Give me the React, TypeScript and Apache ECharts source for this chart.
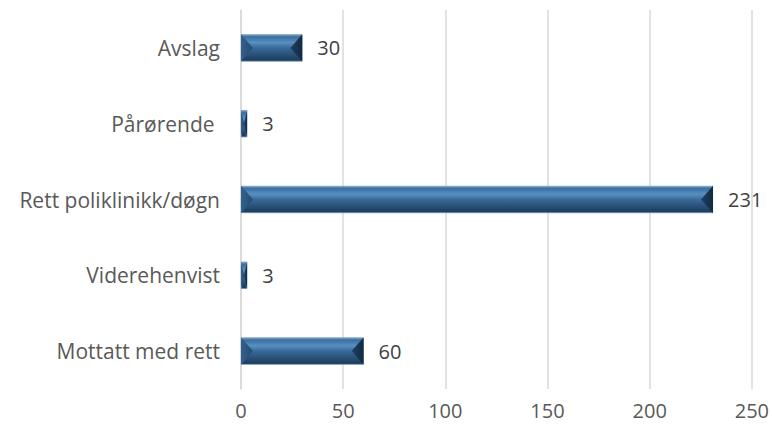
import React, { useEffect, useRef } from "react";
import * as echarts from "echarts";

const categories = ["Mottatt med rett", "Viderehenvist", "Rett poliklinikk/døgn", "Pårørende ", "Avslag"];
const values = [60, 3, 231, 3, 30];
const xTicks = [0, 50, 100, 150, 200, 250];

export default function App() {
  const ref = useRef<HTMLDivElement>(null);
  useEffect(() => {
    const chart = echarts.init(ref.current!, null, { renderer: "svg" });
    const font = "'Open Sans', 'Liberation Sans', sans-serif";
    const barRatio = 0.36;
    chart.setOption({
      animation: false,
      grid: { left: 241, right: 20, top: 10, bottom: 39, containLabel: false },
      xAxis: {
        type: "value",
        min: xTicks[0],
        max: xTicks[xTicks.length - 1],
        interval: 50,
        axisLine: { show: false },
        axisTick: { show: false },
        splitLine: { show: true, lineStyle: { color: "#d9d9d9", width: 1.5 } },
        axisLabel: { color: "#595959", fontSize: 20, fontFamily: font, margin: 11 },
      },
      yAxis: {
        type: "category",
        data: categories,
        axisLine: { show: true, lineStyle: { color: "#d9d9d9", width: 1.5 } },
        axisTick: { show: false },
        axisLabel: { color: "#595959", fontSize: 21, fontFamily: font, margin: 21 },
      },
      series: [
        {
          type: "bar",
          data: values,
          barWidth: barRatio * 100 + "%",
          itemStyle: {
            color: new echarts.graphic.LinearGradient(0, 0, 0, 1, [
              { offset: 0, color: "#7aa5cf" },
              { offset: 0.08, color: "#3c6e9f" },
              { offset: 0.3, color: "#5890c2" },
              { offset: 0.5, color: "#386a9a" },
              { offset: 0.8, color: "#274c72" },
              { offset: 1, color: "#1c3956" },
            ]),
            borderColor: "#6f97bf",
            borderWidth: 0.8,
          },
          label: {
            show: true,
            position: "right",
            distance: 15,
            color: "#404040",
            fontSize: 20,
            fontFamily: font,
          },
        },
        {
          type: "custom",
          data: values.map((v, i) => [v, i]),
          encode: { x: 0, y: 1 },
          silent: true,
          z: 3,
          renderItem: (params: any, api: any) => {
            const v = api.value(0);
            const idx = api.value(1);
            const start = api.coord([0, idx]);
            const end = api.coord([v, idx]);
            const band = api.size([0, 1])[1];
            const h = band * barRatio;
            const yc = start[1];
            const y0 = yc - h / 2;
            const y1 = yc + h / 2;
            const x0 = start[0];
            const x1 = end[0];
            const b = Math.min(12, (x1 - x0) / 2);
            return {
              type: "group",
              children: [
                {
                  type: "polygon",
                  shape: { points: [[x0, y0], [x0 + b, yc], [x0, y1]] },
                  style: {
                    fill: new echarts.graphic.LinearGradient(0, 0, 1, 0, [
                      { offset: 0, color: "#33618d" },
                      { offset: 1, color: "#254b72" },
                    ]),
                  },
                },
                {
                  type: "polygon",
                  shape: { points: [[x1, y0], [x1 - b, yc], [x1, y1]] },
                  style: {
                    fill: new echarts.graphic.LinearGradient(0, 0, 1, 0, [
                      { offset: 0, color: "#1f4163" },
                      { offset: 1, color: "#112a42" },
                    ]),
                  },
                },
              ],
            };
          },
        },
      ],
    });
    return () => chart.dispose();
  }, []);
  return <div ref={ref} style={{ width: 772, height: 428, position: "absolute", left: 0, top: 0 }} />;
}
